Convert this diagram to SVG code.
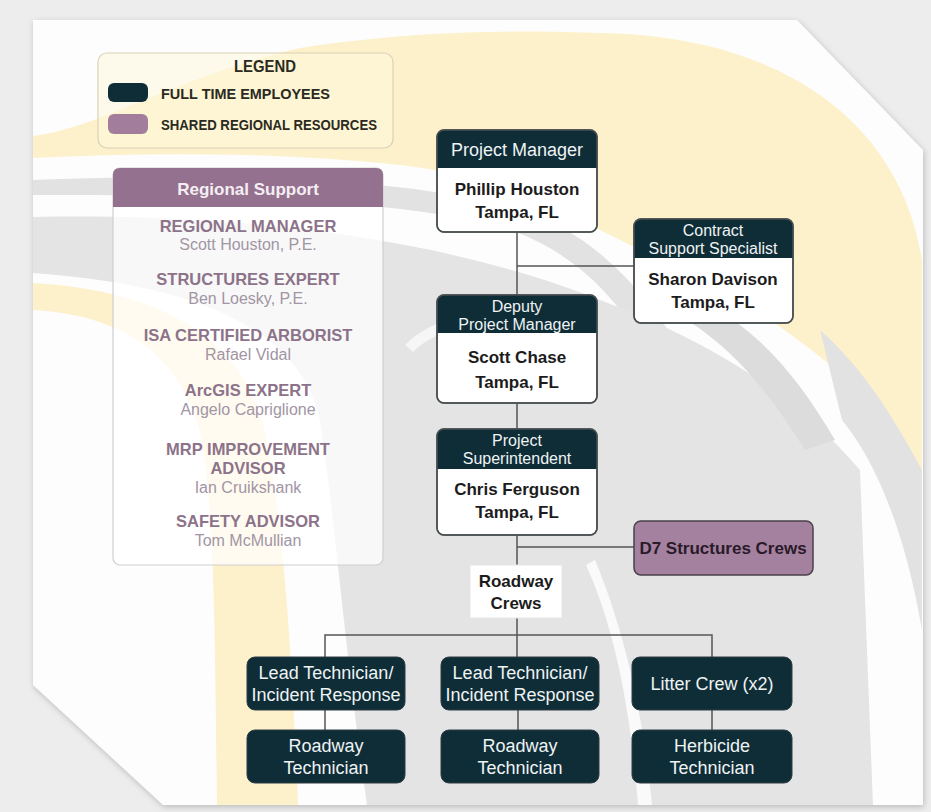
<svg xmlns="http://www.w3.org/2000/svg" width="931" height="812" viewBox="0 0 931 812">
<defs>
<filter id="sh" x="-5%" y="-5%" width="110%" height="110%"><feDropShadow dx="1" dy="2" stdDeviation="3" flood-color="#999" flood-opacity="0.6"/></filter>
<clipPath id="pc"><polygon points="33,20 797,20 923,150 923,805 163,805 33,685"/></clipPath>
<style>
.hd{font-family:"Liberation Sans",Arial,sans-serif;font-size:18px;fill:#eef3f4;text-anchor:middle}
.h2{font-family:"Liberation Sans",Arial,sans-serif;font-size:16px;fill:#eef3f4;text-anchor:middle}
.nm{font-family:"Liberation Sans",Arial,sans-serif;font-size:17px;font-weight:bold;fill:#1c1c1c;text-anchor:middle}
.wt{font-family:"Liberation Sans",Arial,sans-serif;font-size:18px;fill:#eef3f4;text-anchor:middle}
.rt{font-family:"Liberation Sans",Arial,sans-serif;font-size:16.5px;font-weight:bold;fill:#8c7389;text-anchor:middle}
.rn{font-family:"Liberation Sans",Arial,sans-serif;font-size:16px;fill:#a295a4;text-anchor:middle}
.lg{font-family:"Liberation Sans",Arial,sans-serif;font-weight:bold;fill:#2a2a22}
.box{fill:#ffffff;stroke:#4a4f52;stroke-width:1.5}
.frame{fill:none;stroke:#4a4f52;stroke-width:1.5}
.dk{fill:#0f2d37}
.dkb{fill:#0f2d37;stroke:#2d3d44;stroke-width:1}
.cn{stroke:#555;stroke-width:1.5;fill:none}
</style>
</defs>
<rect x="0" y="0" width="931" height="812" fill="#ededed"/>
<polygon points="33,20 797,20 923,150 923,805 163,805 33,685" fill="#fdfdfd" filter="url(#sh)"/>
<g id="background" clip-path="url(#pc)">
<path d="M33,136 C100,128 180,75 300,48 C420,30 520,30 600,33 C780,36 900,120 922,260 L922,470 C880,400 800,330 700,280 C600,230 500,175 400,165 C280,152 150,152 33,158 Z" fill="#fdf1cb"/>
<path d="M33,180 C250,172 420,180 520,210 C600,235 660,300 720,420 L690,430 C640,320 590,258 510,230 C420,202 250,194 33,195 Z" fill="#e2e2e2"/>
<path d="M33,217 C250,213 450,240 600,300 C720,345 800,400 860,470 L873,805 L367,805 C345,650 335,520 320,420 C300,330 200,285 33,273 Z" fill="#e4e4e4"/>
<path d="M700,300 C760,330 800,380 835,440 L805,450 C770,395 740,355 690,322 Z" fill="#dcdcdc"/>
<path d="M820,330 C865,370 895,420 922,470 L922,630 C905,530 875,460 842,420 Z" fill="#e2e2e2"/>
<path d="M33,283 C150,290 235,330 262,420 C282,500 292,650 298,805 L217,805 C215,650 215,520 202,440 C182,352 120,315 33,310 Z" fill="#fdf1cb"/>
<path d="M595,560 C620,620 642,700 652,805 L638,805 C630,700 612,622 586,565 Z" fill="#fafafa"/>
<path d="M405,345 C420,330 440,320 460,318 L455,330 C440,333 425,340 413,352 Z" fill="#f6f6f6"/>
</g>
<g id="legend">
<rect x="98" y="53" width="295" height="95" rx="9" fill="#fff8dc" fill-opacity="0.55" stroke="#d8d2b8" stroke-width="1.2"/>
<text class="lg" x="265" y="72" font-size="16" text-anchor="middle" textLength="62" lengthAdjust="spacingAndGlyphs">LEGEND</text>
<rect x="108" y="83" width="40" height="19" rx="6" fill="#0f2d37"/>
<text class="lg" x="161" y="99" font-size="15" textLength="169" lengthAdjust="spacingAndGlyphs">FULL TIME EMPLOYEES</text>
<rect x="108" y="114" width="40" height="20" rx="6" fill="#a27e9c"/>
<text class="lg" x="161" y="130" font-size="15" textLength="216" lengthAdjust="spacingAndGlyphs">SHARED REGIONAL RESOURCES</text>
</g>
<g id="regional-support">
<rect x="113" y="168" width="270" height="397" rx="7" fill="#ffffff" fill-opacity="0.72" stroke="#cfcfcf" stroke-width="1.2"/>
<path d="M113,207 V175 Q113,168 120,168 H376 Q383,168 383,175 V207 Z" fill="#94718f"/>
<text x="248" y="195" font-family="Liberation Sans, Arial, sans-serif" font-size="17" font-weight="bold" fill="#f4eef3" text-anchor="middle">Regional Support</text>
<text class="rt" x="248" y="231.5">REGIONAL MANAGER</text>
<text class="rn" x="248" y="250">Scott Houston, P.E.</text>
<text class="rt" x="248" y="285">STRUCTURES EXPERT</text>
<text class="rn" x="248" y="303.5">Ben Loesky, P.E.</text>
<text class="rt" x="248" y="341">ISA CERTIFIED ARBORIST</text>
<text class="rn" x="248" y="359.5">Rafael Vidal</text>
<text class="rt" x="248" y="396">ArcGIS EXPERT</text>
<text class="rn" x="248" y="414.5">Angelo Capriglione</text>
<text class="rt" x="248" y="455">MRP IMPROVEMENT</text>
<text class="rt" x="248" y="474">ADVISOR</text>
<text class="rn" x="248" y="492.5">Ian Cruikshank</text>
<text class="rt" x="248" y="527">SAFETY ADVISOR</text>
<text class="rn" x="248" y="545.5">Tom McMullian</text>
</g>
<g id="connectors">
<line class="cn" x1="517" y1="232" x2="517" y2="295"/>
<line class="cn" x1="517" y1="266" x2="634" y2="266"/>
<line class="cn" x1="517" y1="403" x2="517" y2="429"/>
<line class="cn" x1="517" y1="535" x2="517" y2="565"/>
<line class="cn" x1="517" y1="547" x2="634" y2="547"/>
<line class="cn" x1="517" y1="618" x2="517" y2="657"/>
<polyline class="cn" points="325,657 325,635 712,635 712,657"/>
<line class="cn" x1="325" y1="710" x2="325" y2="730"/>
<line class="cn" x1="518" y1="710" x2="518" y2="730"/>
<line class="cn" x1="712" y1="710" x2="712" y2="730"/>
</g>
<g id="project-manager">
<rect class="box" x="437" y="130" width="160" height="102" rx="7"/>
<path class="dk" d="M437,168 V137 Q437,130 444,130 H590 Q597,130 597,137 V168 Z"/>
<rect class="frame" x="437" y="130" width="160" height="102" rx="7"/>
<text class="hd" x="517" y="156">Project Manager</text>
<text class="nm" x="517" y="195">Phillip Houston</text>
<text class="nm" x="517" y="218">Tampa, FL</text>
</g>
<g id="contract-support">
<rect class="box" x="634" y="219" width="159" height="104" rx="7"/>
<path class="dk" d="M634,258 V226 Q634,219 641,219 H786 Q793,219 793,226 V258 Z"/>
<rect class="frame" x="634" y="219" width="159" height="104" rx="7"/>
<text class="h2" x="713" y="235.5">Contract</text>
<text class="h2" x="713" y="253.5">Support Specialist</text>
<text class="nm" x="713" y="285">Sharon Davison</text>
<text class="nm" x="713" y="308">Tampa, FL</text>
</g>
<g id="deputy-pm">
<rect class="box" x="437" y="295" width="160" height="108" rx="7"/>
<path class="dk" d="M437,333 V302 Q437,295 444,295 H590 Q597,295 597,302 V333 Z"/>
<rect class="frame" x="437" y="295" width="160" height="108" rx="7"/>
<text class="h2" x="517" y="311.5">Deputy</text>
<text class="h2" x="517" y="329.5">Project Manager</text>
<text class="nm" x="517" y="363">Scott Chase</text>
<text class="nm" x="517" y="388">Tampa, FL</text>
</g>
<g id="superintendent">
<rect class="box" x="437" y="429" width="160" height="106" rx="7"/>
<path class="dk" d="M437,469 V436 Q437,429 444,429 H590 Q597,429 597,436 V469 Z"/>
<rect class="frame" x="437" y="429" width="160" height="106" rx="7"/>
<text class="h2" x="517" y="446">Project</text>
<text class="h2" x="517" y="464">Superintendent</text>
<text class="nm" x="517" y="495">Chris Ferguson</text>
<text class="nm" x="517" y="518">Tampa, FL</text>
</g>
<g id="d7-structures">
<rect x="634" y="521" width="179" height="54" rx="7" fill="#a4829f" stroke="#4a3f4a" stroke-width="1.5"/>
<text x="723" y="554" font-family="Liberation Sans, Arial, sans-serif" font-size="17" font-weight="bold" fill="#2a1a2a" text-anchor="middle">D7 Structures Crews</text>
</g>
<g id="roadway-crews">
<rect x="470" y="565" width="92" height="53" fill="#ffffff" stroke="#e6e6e6" stroke-width="1"/>
<text class="nm" x="516" y="587">Roadway</text>
<text class="nm" x="516" y="609">Crews</text>
</g>
<g id="lead-tech-1">
<rect class="dkb" x="247" y="657" width="158" height="53" rx="8"/>
<text class="wt" x="326" y="679">Lead Technician/</text>
<text class="wt" x="326" y="701">Incident Response</text>
</g>
<g id="roadway-tech-1">
<rect class="dkb" x="247" y="730" width="158" height="53" rx="8"/>
<text class="wt" x="326" y="752">Roadway</text>
<text class="wt" x="326" y="774">Technician</text>
</g>
<g id="lead-tech-2">
<rect class="dkb" x="441" y="657" width="158" height="53" rx="8"/>
<text class="wt" x="520" y="679">Lead Technician/</text>
<text class="wt" x="520" y="701">Incident Response</text>
</g>
<g id="roadway-tech-2">
<rect class="dkb" x="441" y="730" width="158" height="53" rx="8"/>
<text class="wt" x="520" y="752">Roadway</text>
<text class="wt" x="520" y="774">Technician</text>
</g>
<g id="litter-crew">
<rect class="dkb" x="632" y="657" width="160" height="53" rx="8"/>
<text class="wt" x="712" y="690">Litter Crew (x2)</text>
</g>
<g id="herbicide-tech">
<rect class="dkb" x="632" y="730" width="160" height="53" rx="8"/>
<text class="wt" x="712" y="752">Herbicide</text>
<text class="wt" x="712" y="774">Technician</text>
</g>
</svg>
